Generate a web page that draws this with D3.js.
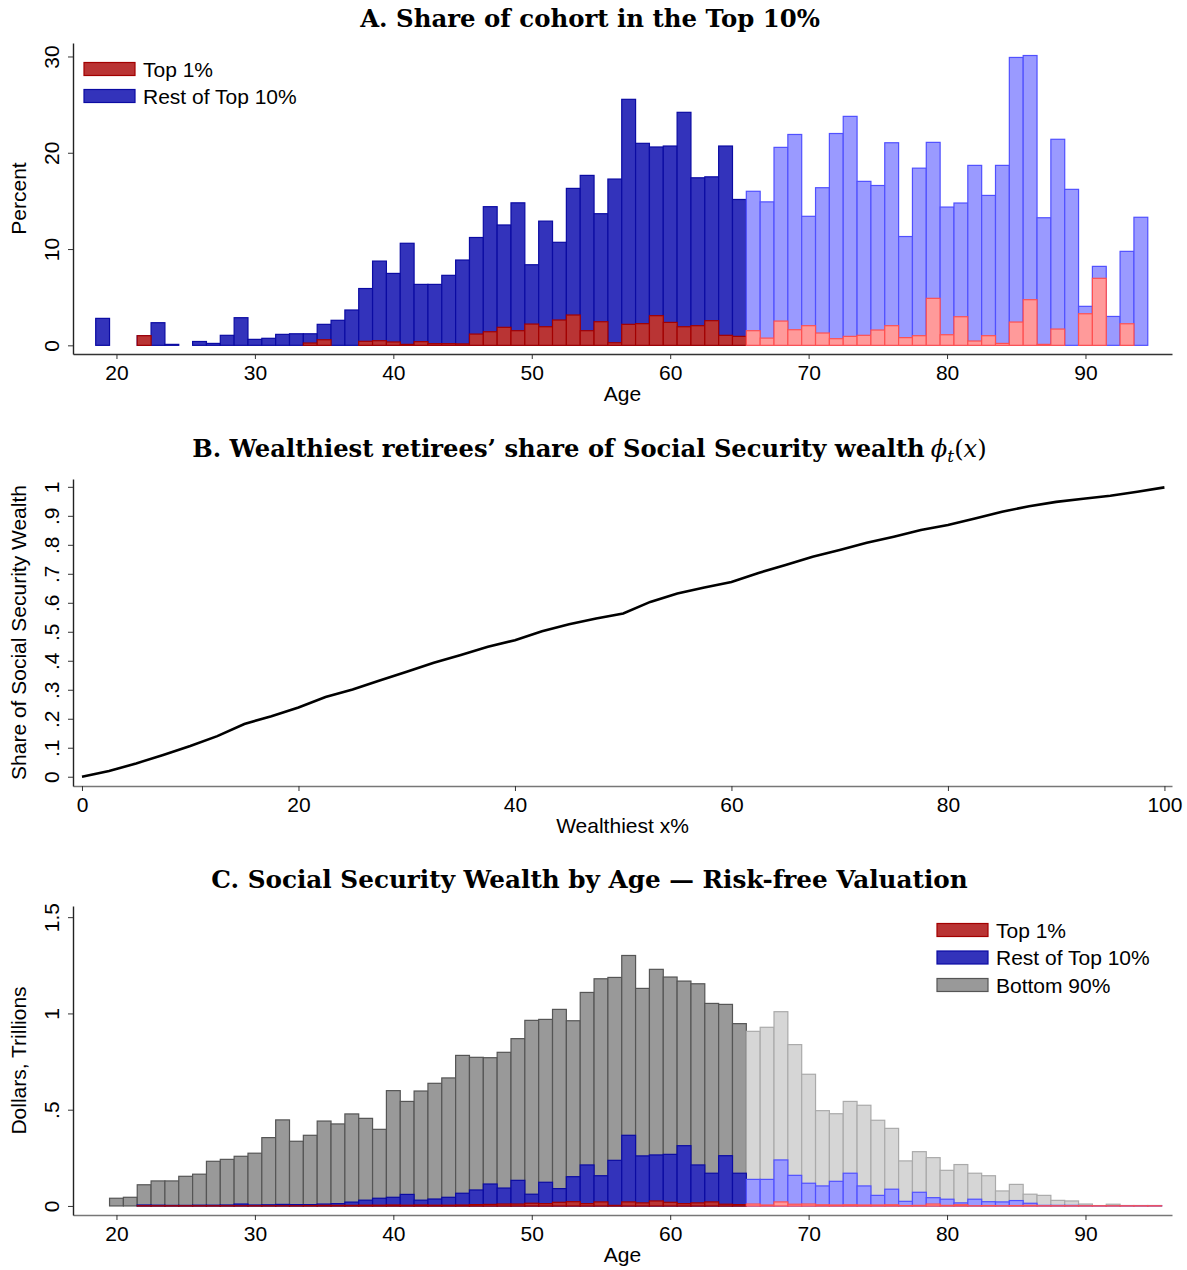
<!DOCTYPE html>
<html>
<head>
<meta charset="utf-8">
<script src="https://cdn.jsdelivr.net/npm/d3@7"></script>
<style>
  body { margin: 0; background: #fff; }
  svg { display: block; }
</style>
</head>
<body>
<div class="board"></div>
<script>
// ---- data: panel A (share of cohort in top 10%, percent) ----
const agesA = [19,20,21,22,23,24,25,26,27,28,29,30,31,32,33,34,35,36,37,38,39,40,41,42,43,44,45,46,47,48,
               49,50,51,52,53,54,55,56,57,58,59,60,61,62,63,64,65,66,67,68,69,70,71,72,73,74,75,76,77,78,
               79,80,81,82,83,84,85,86,87,88,89,90,91,92,93,94,95];
// height of the whole top 10% bar (top 1% + rest of top 10%)
const top10A = [2.8,null,null,1.0,2.35,0.1,null,0.4,0.2,1.04,2.87,0.62,0.73,1.14,1.2,1.2,2.18,2.6,3.67,5.9,
                8.75,7.47,10.6,6.33,6.33,7.27,8.86,11.2,14.4,12.5,14.8,8.37,12.9,10.7,16.3,17.65,13.67,17.27,25.55,20.98,
                20.6,20.7,24.2,17.4,17.5,20.7,15.15,16.0,14.9,20.56,21.9,13.4,16.37,22.0,23.78,17.03,16.6,21.04,11.3,18.4,
                21.08,14.36,14.78,18.69,15.57,18.69,29.9,30.1,13.25,21.4,16.2,4.05,8.2,3.0,9.76,13.3,null];
const top1A = [null,null,null,1.0,null,null,null,0,null,0,null,null,0,0,null,0.24,0.58,0,0,0.42,
               0.48,0.35,0.1,0.38,0.17,0.17,0.15,1.17,1.41,1.87,1.52,2.21,1.93,2.63,3.15,1.52,2.45,0.27,2.18,2.25,
               3.08,2.38,1.93,2.04,2.56,1.04,0.93,1.52,0.75,2.52,1.62,2.04,1.28,0.69,0.93,1.04,1.59,2.04,0.8,1.0,
               4.88,1.1,2.97,0.45,1.0,0.2,2.42,4.74,0.1,1.69,0,3.28,6.96,null,2.24,null,0];

// ---- data: panel B (Lorenz-type curve) ----
const wealthiestX = [0,2.5,5,7.5,10,12.5,15,17.5,20,22.5,25,27.5,30,32.5,35,37.5,40,42.5,45,47.5,
                     50,52.5,55,57.5,60,62.5,65,67.5,70,72.5,75,77.5,80,82.5,85,87.5,90,92.5,95,97.5,100];
const ssShare = [0,0.02,0.046,0.075,0.106,0.14,0.182,0.209,0.239,0.275,0.301,0.332,0.362,0.393,0.42,0.448,0.471,0.502,0.526,0.546,
                 0.563,0.603,0.632,0.653,0.672,0.703,0.73,0.759,0.782,0.807,0.828,0.851,0.868,0.891,0.914,0.933,0.948,0.959,0.969,0.983,0.998];

// ---- data: panel C (Social Security wealth, $ trillions) ----
const agesC = [20,21,22,23,24,25,26,27,28,29,30,31,32,33,34,35,36,37,38,39,40,41,42,43,44,45,46,47,48,49,
               50,51,52,53,54,55,56,57,58,59,60,61,62,63,64,65,66,67,68,69,70,71,72,73,74,75,76,77,78,79,
               80,81,82,83,84,85,86,87,88,89,90,91,92,93,94,95];
// whole bar (everyone)
const totalC = [0.04,0.045,0.11,0.13,0.13,0.154,0.165,0.232,0.242,0.258,0.274,0.355,0.447,0.336,0.367,0.441,0.426,0.478,0.455,0.398,
                0.599,0.543,0.597,0.637,0.665,0.782,0.772,0.77,0.798,0.869,0.964,0.969,1.021,0.962,1.109,1.18,1.187,1.301,1.13,1.229,
                1.189,1.168,1.154,1.052,1.047,0.947,0.907,0.928,1.009,0.838,0.684,0.495,0.479,0.543,0.523,0.445,0.403,0.234,0.282,0.251,
                0.185,0.215,0.17,0.157,0.078,0.112,0.061,0.055,0.029,0.026,0.01,0.002,0.009,0.002,0.002,0.002];
// top 10% part (top 1% + rest)
const top10C = [null,null,0.005,0.004,0.003,0.003,0.004,0.004,0.005,0.01,0.005,0.006,0.008,0.007,0.007,0.01,0.012,0.02,0.03,0.04,
                0.045,0.06,0.03,0.036,0.045,0.066,0.083,0.114,0.093,0.133,0.061,0.123,0.09,0.152,0.213,0.157,0.237,0.367,0.26,0.265,
                0.268,0.313,0.213,0.17,0.261,0.17,0.138,0.138,0.239,0.159,0.118,0.104,0.128,0.17,0.104,0.055,0.087,0.024,0.071,0.043,
                0.035,0.016,0.035,0.022,0.021,0.028,0.014,0.003,0.003,0.003,0.002,0.001,0.001,0.002,0.002,0.002];
const top1C = [null,null,0.001,0.001,0.001,0.001,0.001,0.001,0.001,0.001,0.001,0.001,0.001,0.001,0.002,0.003,0.003,0.003,0.004,0.004,
               0.005,0.004,0.005,0.004,0.004,0.005,0.007,0.008,0.01,0.01,0.014,0.012,0.019,0.022,0.012,0.021,0.003,0.021,0.016,0.026,
               0.019,0.012,0.016,0.021,0.009,0.007,0.01,0.005,0.021,0.009,0.01,0.006,0.005,0.006,0.005,0.005,0.006,0.002,0.003,0.01,
               0.003,0.006,0.001,0.002,0.001,0.002,0.003,0.001,0.001,0.001,0.001,0.001,0.001,0.001,0.001,0.001];

const retireAge = 66;   // from this age on the bars are drawn light

const SANS = 'Liberation Sans, Arial, Helvetica, sans-serif';
const SERIF = 'DejaVu Serif, serif';

const colors = {
  red:   { dark: ['#b93434', '#a30000'], light: ['#ff9a9a', '#ff5050'] },
  blue:  { dark: ['#3333bb', '#0b0ba3'], light: ['#9a9aff', '#5050ff'] },
  gray:  { dark: ['#999999', '#555555'], light: ['#d6d6d6', '#aaaaaa'] }
};

const svg = d3.select('.board').append('svg')
  .attr('width', 1187)
  .attr('height', 1270);

// scales
const xAge = d3.scaleLinear().domain([16.86, 96.25]).range([73, 1172]);
const yA = d3.scaleLinear().domain([-0.9, 31.4]).range([354, 43]);
const xB = d3.scaleLinear().domain([-0.83, 100.7]).range([73, 1172]);
const yB = d3.scaleLinear().domain([-0.032, 1.027]).range([786, 479]);
const yC = d3.scaleLinear().domain([-0.047, 1.558]).range([1215, 906]);

// title, auto-sized to the width it takes in the picture
function title(x0, x1, baseline, main, withPhi) {
  const build = (size) => {
    const t = svg.append('text')
      .attr('x', (x0 + x1) / 2)
      .attr('y', baseline)
      .attr('text-anchor', 'middle')
      .attr('font-family', SERIF)
      .attr('font-weight', 'bold')
      .attr('font-size', size)
      .attr('fill', '#000');
    t.append('tspan').text(main);
    if (withPhi) {
      t.append('tspan').attr('dx', size * 0.25).attr('font-weight', 'normal').attr('font-style', 'italic').text('ϕ');
      t.append('tspan').attr('font-weight', 'normal').attr('font-style', 'italic')
        .attr('font-size', size * 0.7).attr('dy', size * 0.22).text('t');
      t.append('tspan').attr('font-weight', 'normal').attr('dy', -size * 0.22).text('(');
      t.append('tspan').attr('font-weight', 'normal').attr('font-style', 'italic').text('x');
      t.append('tspan').attr('font-weight', 'normal').text(')');
    }
    return t;
  };
  const probe = build(22);
  const w = probe.node().getComputedTextLength();
  probe.remove();
  build(22 * (x1 - x0) / w);
}

function axes(xs, ys, xTicks, yTicks, yFmt, xTitle, yTitle, axisColor) {
  const y0 = ys.range()[0];
  const gx = svg.append('g')
    .attr('transform', `translate(0,${y0})`)
    .call(d3.axisBottom(xs).tickValues(xTicks).tickSize(5).tickSizeOuter(0).tickPadding(6));
  gx.select('.domain').attr('stroke', axisColor).attr('stroke-width', 1.4);
  gx.selectAll('.tick line').attr('stroke', '#333');
  gx.selectAll('text').attr('font-size', 21).attr('font-family', SANS).attr('fill', '#000');

  const x0 = xs.range()[0];
  const gy = svg.append('g')
    .attr('transform', `translate(${x0},0)`)
    .call(d3.axisLeft(ys).tickValues(yTicks).tickFormat(yFmt).tickSize(5).tickSizeOuter(0));
  gy.select('.domain').attr('stroke', '#222').attr('stroke-width', 1.4);
  gy.selectAll('.tick line').attr('stroke', '#333');
  gy.selectAll('text')
    .attr('x', 0).attr('dy', 0)
    .attr('text-anchor', 'middle')
    .attr('transform', 'translate(-14,0) rotate(-90)')
    .attr('font-size', 21).attr('font-family', SANS).attr('fill', '#000');

  svg.append('text')
    .attr('x', (xs.range()[0] + xs.range()[1]) / 2)
    .attr('y', y0 + 47)
    .attr('text-anchor', 'middle')
    .attr('font-family', SANS).attr('font-size', 21)
    .text(xTitle);
  const mid = (ys.range()[0] + ys.range()[1]) / 2;
  svg.append('text')
    .attr('transform', `translate(26,${mid}) rotate(-90)`)
    .attr('text-anchor', 'middle')
    .attr('font-family', SANS).attr('font-size', 21)
    .text(yTitle);
}

// one layer of bars, dark before retirement age and light after
function bars(ages, values, ys, col) {
  const data = ages.map((a, i) => ({ age: a, v: values[i] })).filter(d => d.v !== null);
  svg.append('g').selectAll('rect')
    .data(data)
    .join('rect')
    .attr('x', d => xAge(d.age - 0.5))
    .attr('width', d => xAge(d.age + 0.5) - xAge(d.age - 0.5))
    .attr('y', d => ys(d.v))
    .attr('height', d => ys(0) - ys(d.v))
    .attr('fill', d => col[d.age >= retireAge ? 'light' : 'dark'][0])
    .attr('stroke', d => col[d.age >= retireAge ? 'light' : 'dark'][1])
    .attr('stroke-width', 1.2);
}

function legend(x, yFirst, step, items) {
  items.forEach((it, i) => {
    const cy = yFirst + i * step;
    svg.append('rect')
      .attr('x', x).attr('y', cy - 6.5)
      .attr('width', 51).attr('height', 13)
      .attr('fill', it.col.dark[0]).attr('stroke', it.col.dark[1]).attr('stroke-width', 1.2);
    svg.append('text')
      .attr('x', x + 59).attr('y', cy + 7.5)
      .attr('font-family', SANS).attr('font-size', 21)
      .text(it.label);
  });
}

// ---------------- panel A ----------------
title(360, 820, 27, 'A. Share of cohort in the Top 10%', false);
bars(agesA, top10A, yA, colors.blue);
bars(agesA, top1A, yA, colors.red);
axes(xAge, yA, [20,30,40,50,60,70,80,90], [0,10,20,30], d3.format('d'), 'Age', 'Percent', '#333');
legend(84, 69, 27, [
  { label: 'Top 1%', col: colors.red },
  { label: 'Rest of Top 10%', col: colors.blue }
]);

// ---------------- panel B ----------------
title(195, 984, 457, 'B. Wealthiest retirees’ share of Social Security wealth', true);
const fmtShare = d => d === 0 ? '0' : d === 1 ? '1' : d3.format('.1f')(d).replace(/^0/, '');
axes(xB, yB, [0,20,40,60,80,100], [0,0.1,0.2,0.3,0.4,0.5,0.6,0.7,0.8,0.9,1], fmtShare,
     'Wealthiest x%', 'Share of Social Security Wealth', '#777');
const line = d3.line()
  .x((d, i) => xB(wealthiestX[i]))
  .y(d => yB(d));
svg.append('path')
  .datum(ssShare)
  .attr('d', line)
  .attr('fill', 'none')
  .attr('stroke', '#000')
  .attr('stroke-width', 2.6);

// ---------------- panel C ----------------
title(211, 968, 888, 'C. Social Security Wealth by Age — Risk-free Valuation', false);
bars(agesC, totalC, yC, colors.gray);
bars(agesC, top10C, yC, colors.blue);
bars(agesC, top1C, yC, colors.red);
const fmtTril = d => d === 0 ? '0' : d3.format('~g')(d).replace(/^0/, '');
axes(xAge, yC, [20,30,40,50,60,70,80,90], [0,0.5,1,1.5], fmtTril, 'Age', 'Dollars, Trillions', '#777');
legend(937, 930, 27.5, [
  { label: 'Top 1%', col: colors.red },
  { label: 'Rest of Top 10%', col: colors.blue },
  { label: 'Bottom 90%', col: colors.gray }
]);
</script>
</body>
</html>
